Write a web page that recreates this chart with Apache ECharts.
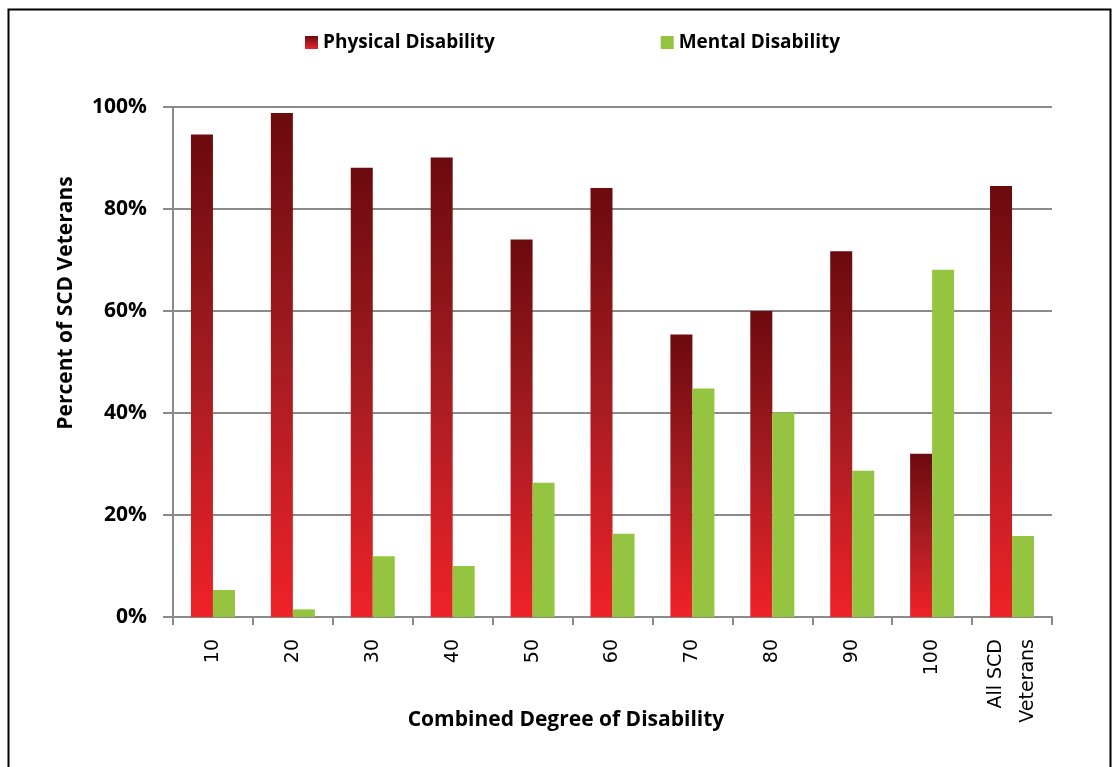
<!DOCTYPE html>
<html>
<head>
<meta charset="utf-8">
<script src="https://cdn.jsdelivr.net/npm/echarts@6/dist/echarts.min.js"></script>
<style>
  html, body { margin: 0; padding: 0; background: #fff; }
  #chart { width: 1117px; height: 767px; }
</style>
</head>
<body>
<div id="chart"></div>
<script>
// categories and values
var degrees = ['10', '20', '30', '40', '50', '60', '70', '80', '90', '100', 'All SCD\nVeterans'];
var physical = [94.6, 98.8, 88.1, 90.1, 74.0, 84.1, 55.4, 60.0, 71.7, 32.0, 84.5];
var mental = [5.3, 1.5, 11.9, 10.0, 26.3, 16.3, 44.8, 40.1, 28.7, 68.1, 15.9];
var yTicks = [0, 20, 40, 60, 80, 100];

var gray = '#8a8a8a';
var redFill = new echarts.graphic.LinearGradient(0, 0, 0, 1, [
    {offset: 0, color: '#6c0a0e'},
    {offset: 0.5, color: '#a61c22'},
    {offset: 1, color: '#ef2227'}
]);

var myChart = echarts.init(document.getElementById('chart'));
myChart.setOption({
    animation: false,
    legend: {
        left: 300,
        top: 28,
        itemWidth: 13,
        itemHeight: 13,
        itemGap: 166,
        icon: 'rect',
        textStyle: {fontFamily: 'Open Sans', fontWeight: 'bold', fontSize: 19, color: '#000'}
    },
    grid: {left: 173, right: 65, top: 107, bottom: 150},
    xAxis: {
        type: 'category',
        data: degrees,
        axisLine: {lineStyle: {color: gray, width: 2}},
        axisTick: {show: true, length: 8, lineStyle: {color: gray, width: 2}},
        axisLabel: {
            rotate: 90,
            margin: 22,
            interval: 0,
            fontFamily: 'DejaVu Sans',
            fontSize: 19,
            color: '#000',
            lineHeight: 32
        }
    },
    yAxis: {
        type: 'value',
        min: yTicks[0],
        max: yTicks[yTicks.length - 1],
        interval: 20,
        axisLine: {show: true, lineStyle: {color: gray, width: 2}},
        axisTick: {show: true, length: 10, lineStyle: {color: gray, width: 2}},
        splitLine: {lineStyle: {color: gray, width: 2}},
        axisLabel: {
            margin: 26,
            formatter: '{value}%',
            fontFamily: 'Open Sans',
            fontWeight: 'bold',
            fontSize: 21,
            color: '#000'
        }
    },
    graphic: [
        {
            type: 'rect',
            shape: {x: 8.5, y: 9.5, width: 1102, height: 780},
            style: {fill: 'none', stroke: '#000', lineWidth: 2},
            silent: true
        },
        {
            type: 'text',
            x: 66,
            y: 303,
            rotation: Math.PI / 2,
            style: {
                text: 'Percent of SCD Veterans',
                fontFamily: 'Open Sans',
                fontWeight: 'bold',
                fontSize: 21,
                fill: '#000',
                align: 'center',
                verticalAlign: 'middle'
            }
        },
        {
            type: 'text',
            x: 566,
            y: 720,
            style: {
                text: 'Combined Degree of Disability',
                fontFamily: 'Open Sans',
                fontWeight: 'bold',
                fontSize: 21,
                fill: '#000',
                align: 'center',
                verticalAlign: 'middle'
            }
        }
    ],
    series: [
        {
            name: 'Physical Disability',
            type: 'bar',
            data: physical,
            barWidth: 22,
            barGap: '0%',
            itemStyle: {color: redFill}
        },
        {
            name: 'Mental Disability',
            type: 'bar',
            data: mental,
            barWidth: 22,
            itemStyle: {color: '#95c440'}
        }
    ]
});
</script>
</body>
</html>
